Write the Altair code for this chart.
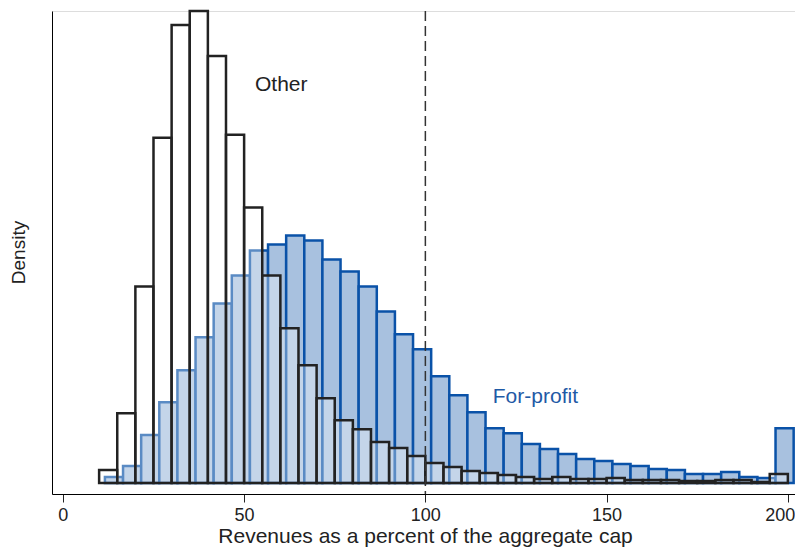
import altair as alt
import pandas as pd

# "Other" histogram: bin starts (width 5) and density (arbitrary units, same scale for both)
other_bin_start = [10, 15, 20, 25, 30, 35, 40, 45, 50, 55, 60, 65, 70, 75, 80, 85, 90, 95,
                   100, 105, 110, 115, 120, 125, 130, 135, 140, 145, 150, 155, 160, 165,
                   170, 175, 180, 185, 190, 195]
other_density = [13, 70, 197, 346, 459, 473, 428, 349, 276, 208, 155, 118, 85, 63, 54, 41, 35, 27,
                 20, 16, 12, 10, 8, 6, 4, 6, 4, 4, 5, 3, 3, 3,
                 2, 2, 3, 3, 1, 9]

# "For-profit" histogram
forprofit_bin_start = [11.6, 16.6, 21.6, 26.6, 31.6, 36.6, 41.6, 46.6, 51.6, 56.6, 61.6, 66.6,
                       71.6, 76.6, 81.6, 86.6, 91.6, 96.6, 101.6, 106.6, 111.6, 116.6, 121.6,
                       126.6, 131.6, 136.6, 141.6, 146.6, 151.6, 156.6, 161.6, 166.6, 171.6,
                       176.6, 181.6, 186.6, 191.6, 196.6]
forprofit_density = [6, 17, 48, 81, 113, 146, 180, 208, 233, 239, 248, 243,
                     224, 212, 197, 172, 149, 134, 107, 88, 71, 55, 50,
                     39, 34, 29, 24, 22, 19, 17, 14, 13, 9,
                     9, 11, 6, 5, 55]

bin_width = 5
x_ticks = [0, 50, 100, 150, 200]
cap_value = 100

FONT = "Liberation Sans"
BLUE_FILL = "#a8c1df"
BLUE_STROKE = "#0a52a8"
BLACK = "#222222"

other_df = pd.DataFrame({"start": other_bin_start, "density": other_density})
fp_df = pd.DataFrame({"start": forprofit_bin_start, "density": forprofit_density})

xscale = alt.Scale(domain=[-3, 201.97], nice=False, zero=False)
yscale = alt.Scale(domain=[-11, 473], nice=False, zero=False)

xaxis = alt.Axis(values=x_ticks, title="Revenues as a percent of the aggregate cap",
                 grid=False, domainColor="black", domainWidth=1, tickColor=BLACK,
                 tickSize=8, tickWidth=1, labelFontSize=18, labelColor=BLACK,
                 labelPadding=4, labelFont=FONT, labelFlush=9, labelFlushOffset=7,
                 titleFont=FONT, titleFontSize=21,
                 titleFontWeight="normal", titleColor=BLACK, titleY=48, titleX=373,
                 titleBaseline="alphabetic")
yaxis = alt.Axis(title="Density", grid=False, ticks=False, labels=False,
                 domainColor="black", domainWidth=1, titleFont=FONT, titleFontSize=19,
                 titleFontWeight="normal", titleColor=BLACK, titleX=-34, titleY=241,
                 titleBaseline="middle", titleAngle=-90)

fp_bars = alt.Chart(fp_df).transform_calculate(
    end=f"datum.start + {bin_width}"
).mark_rect(fill=BLUE_FILL, stroke=BLUE_STROKE, strokeWidth=2.5).encode(
    x=alt.X("start:Q", scale=xscale, axis=xaxis),
    x2="end:Q",
    y=alt.Y("density:Q", scale=yscale, axis=yaxis),
    y2=alt.datum(0),
)

other_bars = alt.Chart(other_df).transform_calculate(
    end=f"datum.start + {bin_width}"
).mark_rect(fill="white", fillOpacity=0.33, stroke=BLACK, strokeWidth=2.5).encode(
    x=alt.X("start:Q", scale=xscale),
    x2="end:Q",
    y=alt.Y("density:Q", scale=yscale),
    y2=alt.datum(0),
)

cap_rule = alt.Chart(pd.DataFrame({"cap": [cap_value]})).mark_rule(
    color="#333333", strokeWidth=1.5, strokeDash=[10, 5]
).encode(
    x=alt.X("cap:Q", scale=xscale),
    y=alt.value(0),
    y2=alt.value(483),
)

labels_df = pd.DataFrame({
    "x": [53.0, 118.6],
    "y": [393, 80],
    "text": ["Other", "For-profit"],
    "color": [BLACK, "#1f5aa6"],
})
labels = alt.Chart(labels_df).mark_text(
    align="left", baseline="alphabetic", font=FONT, fontSize=21
).encode(
    x=alt.X("x:Q", scale=xscale),
    y=alt.Y("y:Q", scale=yscale),
    text="text:N",
    color=alt.Color("color:N", scale=None),
)

chart = alt.layer(fp_bars, other_bars, cap_rule, labels).properties(
    width=743, height=483,
    autosize=alt.AutoSizeParams(type="none"),
    padding={"left": 44, "top": 3, "right": 0, "bottom": 53},
).configure_view(stroke=None).configure(background="white")

chart.save("out.html", embed_options={"renderer": "svg", "actions": False})
